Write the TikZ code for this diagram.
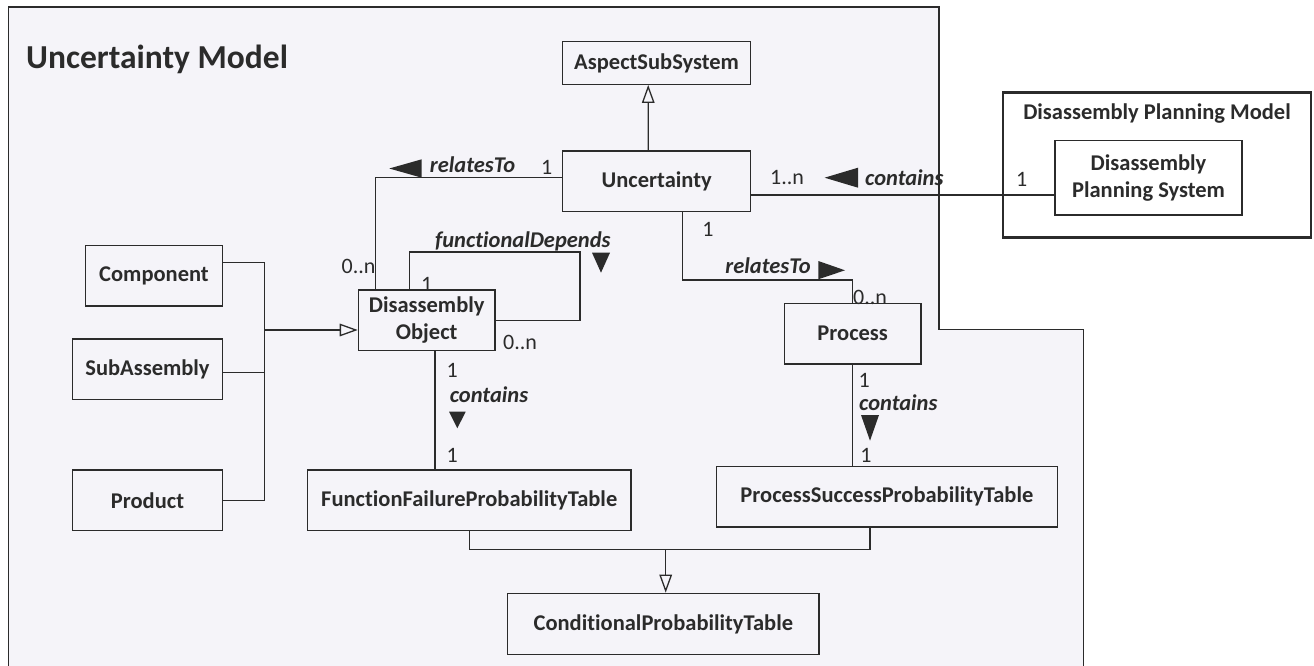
\documentclass[tikz,border=0pt]{standalone}
\usepackage{fontspec}
\setmainfont[Ligatures={NoCommon}]{Carlito}
\usetikzlibrary{arrows.meta}
\definecolor{bgl}{HTML}{F5F4F9}
\definecolor{ink}{HTML}{2B2B2B}
\tikzset{
  cls/.style={draw=ink, line width=1.3pt, fill=bgl, inner sep=0pt, align=center,
    font=\bfseries\fontsize{22.5}{27.5}\selectfont, text=ink},
  conn/.style={draw=ink, line width=1.3pt},
  gen/.style={conn, -{Triangle[open, length=18pt, width=12.6pt, line width=1.3pt]}},
  role/.style={font=\bfseries\itshape\fontsize{22.5}{27}\selectfont, text=ink, inner sep=0pt},
  mult/.style={font=\fontsize{22}{26}\selectfont, text=ink, inner sep=0pt},
  navtri/.style={fill=ink},
}
\begin{document}
\begin{tikzpicture}[x=1pt, y=-1pt]
\useasboundingbox (0,0) rectangle (1314,666);
\fill[white] (0,0) rectangle (1314,666);
% outer package region
\fill[bgl] (8.4,667) -- (8.4,7.3) -- (939,7.3) -- (939,329.5) -- (1083.5,329.5) -- (1083.5,667) -- cycle;
\draw[ink, line width=1.8pt] (8.4,667) -- (8.4,7.3) -- (939,7.3) -- (939,329.5) -- (1083.5,329.5) -- (1083.5,667);
\node[anchor=base west, inner sep=0pt, text=ink, font=\bfseries\fontsize{33.5}{40}\selectfont] (title) at (26,69) {Uncertainty Model};

% Disassembly Planning Model package
\node[draw=ink, line width=2.5pt, fill=white, inner sep=0pt, minimum width=308pt, minimum height=144.6pt] (dpm) at (1157,165) {};
\node[inner sep=0pt, text=ink, font=\bfseries\fontsize{22.5}{27.5}\selectfont] (dpmt) at (1157,114) {Disassembly Planning Model};
\node[cls, fill=white, minimum width=187pt, minimum height=74.3pt] (dps) at (1148.5,177.9) {Disassembly\\Planning System};

% classes
\node[cls, minimum width=188pt, minimum height=42.6pt] (asp) at (656.6,63) {AspectSubSystem};
\node[cls, minimum width=188pt, minimum height=60.7pt] (unc) at (656.7,181.3) {Uncertainty};
\node[cls, minimum width=136.6pt, minimum height=60.3pt] (comp) at (154,275.9) {Component};
\node[cls, minimum width=149.6pt, minimum height=60.7pt] (sub) at (147.5,369.3) {SubAssembly};
\node[cls, minimum width=149.6pt, minimum height=60.7pt] (prod) at (147.5,500.3) {Product};
\node[cls, minimum width=136.7pt, minimum height=60.5pt] (dobj) at (426.7,320.2) {Disassembly\\Object};
\node[cls, minimum width=136.7pt, minimum height=60.7pt] (proc) at (852.7,333.7) {Process};
\node[cls, minimum width=323.7pt, minimum height=60.5pt] (ffpt) at (469.2,500.2) {FunctionFailureProbabilityTable};
\node[cls, minimum width=340.8pt, minimum height=60.3pt] (pspt) at (886.9,496.8) {ProcessSuccessProbabilityTable};
\node[cls, minimum width=311.3pt, minimum height=61.4pt] (cpt) at (663.3,624) {ConditionalProbabilityTable};

% generalization Uncertainty -> AspectSubSystem
\draw[gen] ([xshift=-8.4pt]unc.north) -- ([xshift=-8.4pt]asp.south);

% Uncertainty -- DisassemblyObject (relatesTo)
\draw[conn] ([yshift=3.6pt]unc.west) -| ([xshift=-51pt]dobj.north);
\node[mult] (m1) at (546.7,167) {1};
\node[role, anchor=base] (r1) at (472.5,172.3) {relatesTo};
\fill[navtri] (421.7,159.3) -- (421.7,177.7) -- (389.3,168.5) -- cycle;
\node[mult] (m2) at (358.5,266) {0..n};

% Uncertainty -- Disassembly Planning System (contains)
\draw[conn] ([yshift=-13.7pt]unc.east) -- ([yshift=-13.7pt]unc.east -| dps.west);
\node[mult] (m3) at (787,178) {1..n};
\fill[navtri] (858,167.7) -- (858,187.7) -- (824.6,177.7) -- cycle;
\node[role, anchor=base] (r2) at (904.3,185) {contains};
\node[mult] (m4) at (1021.7,179) {1};

% Uncertainty -- Process (relatesTo)
\draw[conn] ([xshift=26pt]unc.south) -- ++(0,67.6) -| (proc.north);
\node[mult] (m5) at (708,229.3) {1};
\node[role, anchor=base] (r3) at (768,273.3) {relatesTo};
\fill[navtri] (818.3,261) -- (818.3,279.3) -- (845,270.3) -- cycle;
\node[mult] (m6) at (870,297.7) {0..n};

% DisassemblyObject self association (functionalDepends)
\coordinate (loopc) at (580,320.2);
\draw[conn] ([xshift=-17.4pt]dobj.north) -- ++(0,-37.3) -| (loopc) -- (dobj.east);
\node[role, anchor=base] (r4) at (522.9,247.7) {functionalDepends};
\fill[navtri] (592,252.7) -- (610,252.7) -- (601,272.7) -- cycle;
\node[mult] (m7) at (426.7,284) {1};
\node[mult] (m8) at (520,342.7) {0..n};

% generalization Component/SubAssembly/Product -> DisassemblyObject
\coordinate (tree) at (264.7,330);
\draw[conn] ([yshift=13.2pt]comp.east) -| (tree);
\draw[conn] ([yshift=-3.4pt]sub.east) -- ([yshift=-3.4pt]sub.east -| tree);
\draw[conn] (prod.east) -| (tree);
\draw[gen] (tree) -- (tree -| dobj.west);

% DisassemblyObject -- FunctionFailureProbabilityTable (contains)
\draw[conn] ([xshift=8.3pt]dobj.south) -- ([xshift=8.3pt]dobj.south |- ffpt.north);
\node[mult] (m9) at (452.3,370.7) {1};
\node[role, anchor=base] (r5) at (489,402.7) {contains};
\fill[navtri] (449,411.7) -- (465.7,411.7) -- (457.3,428.3) -- cycle;
\node[mult] (m10) at (452.3,455) {1};

% Process -- ProcessSuccessProbabilityTable (contains)
\draw[conn] (proc.south) -- (proc.south |- pspt.north);
\node[mult] (m11) at (864.3,380) {1};
\node[role, anchor=base] (r6) at (898.3,410) {contains};
\fill[navtri] (861,415) -- (879,415) -- (870,440.7) -- cycle;
\node[mult] (m12) at (866,455) {1};

% generalization tables -> ConditionalProbabilityTable
\coordinate (join) at (665.7,549.3);
\draw[conn] (ffpt.south) |- (join) -| ([xshift=-16.9pt]pspt.south);
\draw[gen] (join) -- (join |- cpt.north);
\end{tikzpicture}
\end{document}
